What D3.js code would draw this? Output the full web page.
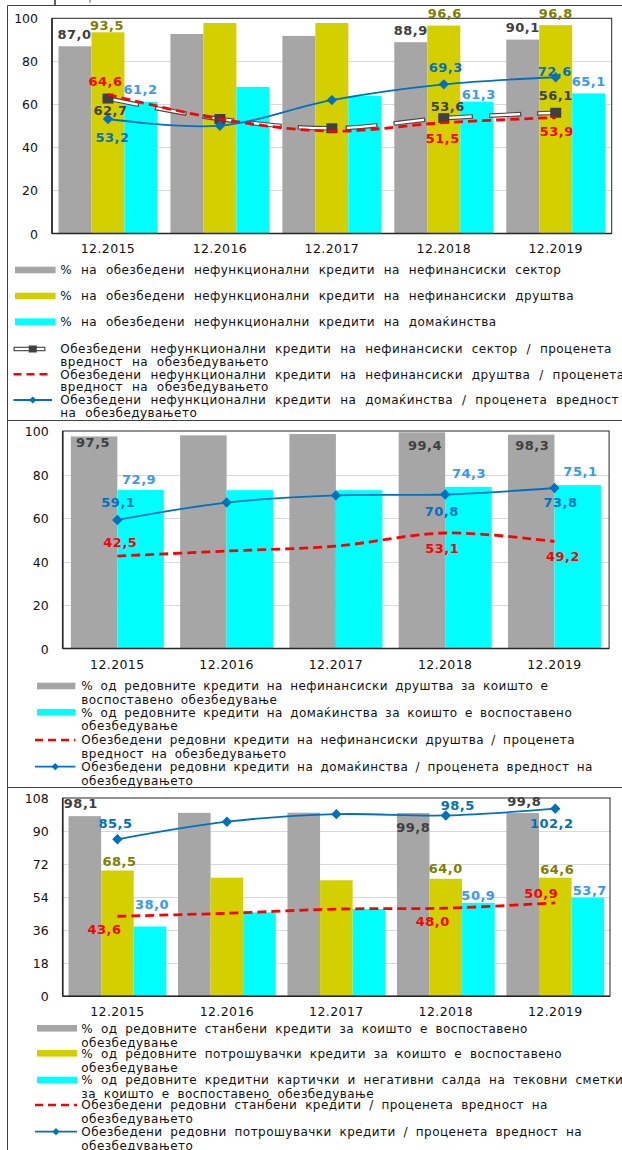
<!DOCTYPE html>
<html>
<head>
<meta charset="utf-8">
<script src="https://cdn.jsdelivr.net/npm/d3@7"></script>
<style>
  html, body { margin: 0; padding: 0; background: #fff; }
  svg { display: block; }
  text { font-family: "DejaVu Sans", Verdana, sans-serif; }
</style>
</head>
<body>
<svg id="chart" width="622" height="1150"></svg>
<script>
const categories = ["12.2015", "12.2016", "12.2017", "12.2018", "12.2019"];

// Non-performing loans: collateral coverage, %
const npSectorShare     = [87.0, 92.7, 91.8, 88.9, 90.1];
const npCompaniesShare  = [93.5, 97.8, 97.8, 96.6, 96.8];
const npHouseholdsShare = [61.2, 68.1, 63.9, 61.3, 65.1];
const npSectorRatio     = [62.7, 53.2, 48.9, 53.6, 56.1];
const npCompaniesRatio  = [64.6, 53.2, 47.6, 51.5, 53.9];
const npHouseholdsRatio = [53.2, 50.1, 62.0, 69.3, 72.6];
const npTicks = [0, 20, 40, 60, 80, 100];

// Regular loans: companies and households
const rgCompaniesShare  = [97.5, 98.0, 98.6, 99.4, 98.3];
const rgHouseholdsShare = [72.9, 72.8, 72.8, 74.3, 75.1];
const rgCompaniesRatio  = [42.5, 44.8, 47.1, 53.1, 49.2];
const rgHouseholdsRatio = [59.1, 67.1, 70.4, 70.8, 73.8];
const rgTicks = [0, 20, 40, 60, 80, 100];

// Regular household loans by product
const hhHousingShare  = [98.1, 99.9, 100.0, 99.8, 99.8];
const hhConsumerShare = [68.5, 64.6, 63.2, 64.0, 64.6];
const hhCardsShare    = [38.0, 45.7, 47.5, 50.9, 53.7];
const hhHousingRatio  = [43.6, 45.2, 47.5, 48.0, 50.9];
const hhConsumerRatio = [85.5, 95.1, 99.2, 98.5, 102.2];
const hhTicks = [0, 18, 36, 54, 72, 90, 108];

// Legend texts (pre-wrapped)
const npLegend = [
  ["% на обезбедени нефункционални кредити на нефинансиски сектор"],
  ["% на обезбедени нефункционални кредити на нефинансиски друштва"],
  ["% на обезбедени нефункционални кредити на домаќинства"],
  ["Обезбедени нефункционални кредити на нефинансиски сектор / проценета", "вредност на обезбедувањето"],
  ["Обезбедени нефункционални кредити на нефинансиски друштва / проценета", "вредност на обезбедувањето"],
  ["Обезбедени нефункционални кредити на домаќинства / проценета вредност", "на обезбедувањето"]
];
const rgLegend = [
  ["% од редовните кредити на нефинансиски друштва за коишто е", "воспоставено обезбедување"],
  ["% од редовните кредити на домаќинства за коишто е воспоставено", "обезбедување"],
  ["Обезбедени редовни кредити на нефинансиски друштва / проценета", "вредност на обезбедувањето"],
  ["Обезбедени редовни кредити на домаќинства / проценета вредност на", "обезбедувањето"]
];
const hhLegend = [
  ["% од редовните станбени кредити за коишто е воспоставено", "обезбедување"],
  ["% од редовните потрошувачки кредити за коишто е воспоставено", "обезбедување"],
  ["% од редовните кредитни картички и негативни салда на тековни сметки", "за коишто е воспоставено обезбедување"],
  ["Обезбедени редовни станбени кредити / проценета вредност на", "обезбедувањето"],
  ["Обезбедени редовни потрошувачки кредити / проценета вредност на", "обезбедувањето"]
];

// ---- styling ----
const GRAY = "#a6a6a6", YELLOW = "#d4d000", CYAN = "#00ffff", RED = "#ff0000", BLUE = "#0070c0", DARK = "#404040";
const LBL_GRAY = "#404040", LBL_YELLOW = "#7f7f00", LBL_CYAN = "#3399ff", LBL_BLUE = "#0070c0", LBL_RED = "#ff0000";
const FONT = "'DejaVu Sans', Verdana, sans-serif";

const W = 622, H = 1150;
const svg = d3.select("#chart");
svg.append("rect").attr("width", W).attr("height", H).attr("fill", "#fff");

const fmt = v => d3.format(".1f")(v).replace(".", ",");

// panel outlines
const outline = svg.append("g").attr("stroke", DARK).attr("stroke-width", 1).attr("fill", "none");
outline.append("line").attr("x1", 7.5).attr("x2", W).attr("y1", 5.5).attr("y2", 5.5);
outline.append("line").attr("x1", 7.5).attr("x2", W).attr("y1", 420.5).attr("y2", 420.5);
outline.append("line").attr("x1", 7.5).attr("x2", W).attr("y1", 787.5).attr("y2", 787.5);
outline.append("line").attr("x1", 7.5).attr("x2", 7.5).attr("y1", 5.5).attr("y2", H);
outline.append("line").attr("x1", 55).attr("x2", 55).attr("y1", 0).attr("y2", 5).attr("stroke-width", 1.4).attr("stroke", "#222");
outline.append("line").attr("x1", 90).attr("x2", 90).attr("y1", 0).attr("y2", 2.5).attr("stroke", "#555");

const diamond = (s) => `M0,${-s}L${s},0L0,${s}L${-s},0Z`;

// double (compound) dashed stroke: dark outline with a white core
function compoundLine(g, d, w) {
  g.append("path").attr("d", d).attr("fill", "none").attr("stroke", "#4a4a4a")
    .attr("stroke-width", w).attr("stroke-dasharray", "32 16");
  g.append("path").attr("d", d).attr("fill", "none").attr("stroke", "#fff")
    .attr("stroke-width", w * 0.5).attr("stroke-dasharray", "29.5 18.5").attr("stroke-dashoffset", -1.25);
}

function drawPanel(cfg) {
  const g = svg.append("g");
  const f = cfg.frame;
  const x = d3.scaleBand().domain(categories).range([f.left, f.right])
    .paddingInner(cfg.pad).paddingOuter(cfg.pad / 2);
  const xs = d3.scaleBand().domain(d3.range(cfg.bars.length)).range([0, x.bandwidth()]);
  const y = d3.scaleLinear().domain([0, cfg.yMax]).range([f.bottom, f.top]);
  const cx = i => x(categories[i]) + x.bandwidth() / 2;

  // gridlines
  g.append("g").selectAll("line").data(cfg.ticks.filter(t => t > 0 && t < cfg.yMax)).join("line")
    .attr("x1", f.left).attr("x2", f.right)
    .attr("y1", d => Math.round(y(d)) + 0.5).attr("y2", d => Math.round(y(d)) + 0.5)
    .attr("stroke", "#d9d9d9").attr("stroke-width", 1);

  // bars
  cfg.bars.forEach((s, si) => {
    g.append("g").selectAll("rect").data(s.values).join("rect")
      .attr("x", (d, i) => x(categories[i]) + xs(si))
      .attr("width", xs.bandwidth())
      .attr("y", d => y(d))
      .attr("height", d => y(0) - y(d))
      .attr("fill", s.color);
  });

  // frame
  g.append("rect").attr("x", f.left).attr("y", f.top)
    .attr("width", f.right - f.left).attr("height", f.bottom - f.top)
    .attr("fill", "none").attr("stroke", "#262626").attr("stroke-width", 1);
  g.append("line").attr("x1", f.left).attr("x2", f.left).attr("y1", f.top).attr("y2", f.bottom)
    .attr("stroke", "#262626").attr("stroke-width", 1.6);
  g.append("line").attr("x1", f.left).attr("x2", f.right).attr("y1", f.bottom).attr("y2", f.bottom)
    .attr("stroke", "#262626").attr("stroke-width", 1.6);

  // axes
  const ya = g.append("g").attr("transform", `translate(${f.left},0)`)
    .call(d3.axisLeft(y).tickValues(cfg.ticks).tickSize(0).tickPadding(14).tickFormat(d3.format("d")));
  ya.select(".domain").remove();
  ya.selectAll("text").attr("font-size", 12.5).attr("font-family", FONT).attr("fill", "#111").attr("dy", "0.36em");
  const xa = g.append("g").attr("transform", `translate(0,${f.bottom})`)
    .call(d3.axisBottom(x).tickSize(0).tickPadding(cfg.xPad));
  xa.select(".domain").remove();
  xa.selectAll("text").attr("font-size", 12.5).attr("font-family", FONT).attr("fill", "#111").attr("letter-spacing", 0.4);

  // lines
  const line = d3.line().x((d, i) => cx(i)).y(d => y(d)).curve(d3.curveCardinal.tension(0));
  cfg.lines.forEach(s => {
    const lg = g.append("g");
    const d = line(s.values);
    if (s.style === "compound") {
      compoundLine(lg, d, 4.6);
      lg.selectAll("rect").data(s.values).join("rect")
        .attr("x", (v, i) => cx(i) - 5.5).attr("y", v => y(v) - 5)
        .attr("width", 11).attr("height", 10).attr("fill", DARK);
    } else if (s.style === "dash") {
      lg.append("path").attr("d", d).attr("fill", "none").attr("stroke", RED)
        .attr("stroke-width", 2.8).attr("stroke-dasharray", "9 5");
    } else {
      lg.append("path").attr("d", d).attr("fill", "none").attr("stroke", BLUE).attr("stroke-width", 1.8);
      lg.selectAll("path.mk").data(s.values).join("path").attr("class", "mk")
        .attr("d", diamond(5.2))
        .attr("transform", (v, i) => `translate(${cx(i)},${y(v)})`)
        .attr("fill", BLUE);
    }
  });

  // data labels
  const lab = g.append("g").attr("font-family", FONT).attr("font-weight", "bold")
    .attr("font-size", 13).attr("text-anchor", "middle").attr("letter-spacing", 0.5);
  cfg.bars.forEach((s, si) => {
    s.labels.forEach(([i, dx, dy]) => {
      lab.append("text")
        .attr("x", x(categories[i]) + xs(si) + xs.bandwidth() / 2 + dx)
        .attr("y", y(s.values[i]) + dy).attr("dy", "0.36em")
        .attr("fill", s.labelColor).text(fmt(s.values[i]));
    });
  });
  cfg.lines.forEach(s => {
    s.labels.forEach(([i, dx, dy]) => {
      lab.append("text")
        .attr("x", cx(i) + dx).attr("y", y(s.values[i]) + dy).attr("dy", "0.36em")
        .attr("fill", s.labelColor).text(fmt(s.values[i]));
    });
  });

  // legend
  const L = cfg.legend;
  const lg = svg.append("g");
  L.entries.forEach((e, k) => {
    const yy = L.ys[k];
    if (e.kind === "bar") {
      lg.append("rect").attr("x", L.sw[0]).attr("y", yy - 3.3).attr("width", L.sw[1] - L.sw[0]).attr("height", 6.6).attr("fill", e.color);
    } else if (e.kind === "compound") {
      compoundLine(lg, `M${L.ln[0]},${yy}L${L.ln[1]},${yy}`, 4.4);
      const m = (L.ln[0] + L.ln[1]) / 2;
      lg.append("rect").attr("x", m - 4).attr("y", yy - 3.5).attr("width", 8).attr("height", 7).attr("fill", DARK);
    } else if (e.kind === "dash") {
      lg.append("line").attr("x1", L.ln[0]).attr("x2", L.ln[1]).attr("y1", yy).attr("y2", yy)
        .attr("stroke", RED).attr("stroke-width", 2.6).attr("stroke-dasharray", "8 5");
    } else {
      lg.append("line").attr("x1", L.ln[0]).attr("x2", L.ln[1]).attr("y1", yy).attr("y2", yy)
        .attr("stroke", BLUE).attr("stroke-width", 1.8);
      lg.append("path").attr("d", diamond(3.6)).attr("transform", `translate(${(L.ln[0] + L.ln[1]) / 2},${yy})`).attr("fill", BLUE);
    }
    e.text.forEach((t, j) => {
      lg.append("text").attr("x", L.tx).attr("y", yy + j * L.lh).attr("dy", "0.36em")
        .attr("font-family", FONT).attr("font-size", 12).attr("fill", "#111")
        .attr("letter-spacing", 0.45).attr("word-spacing", L.ws)
        .text(t);
    });
  });
}

// ---- panel 1: non-performing loans ----
drawPanel({
  frame: { left: 52, right: 611.7, top: 18.3, bottom: 233.5 },
  yMax: 100, ticks: npTicks, pad: 0.116, xPad: 10.5,
  bars: [
    { values: npSectorShare, color: GRAY, labelColor: LBL_GRAY, labels: [[0, -0.5, -12], [3, 0, -12], [4, 0, -12]] },
    { values: npCompaniesShare, color: YELLOW, labelColor: LBL_YELLOW, labels: [[0, -1, -7], [3, 1, -12], [4, 0, -12]] },
    { values: npHouseholdsShare, color: CYAN, labelColor: LBL_CYAN, labels: [[0, -0.5, -12], [3, 2, -7], [4, 0, -12]] }
  ],
  lines: [
    { values: npSectorRatio, style: "compound", labelColor: LBL_GRAY, labels: [[0, 2.5, 11.5], [3, 4, -12], [4, 0, -17]] },
    { values: npCompaniesRatio, style: "dash", labelColor: LBL_RED, labels: [[0, -2.5, -13.5], [3, -1, 16], [4, 1, 14]] },
    { values: npHouseholdsRatio, style: "diamond", labelColor: LBL_BLUE, labels: [[0, 4.5, 18], [3, 2, -17], [4, -1, -6]] }
  ],
  legend: {
    sw: [15, 55.6], ln: [13.5, 52], tx: 60.3, lh: 12.7, ws: 4.6,
    ys: [270, 296, 321.7, 349, 374.3, 400],
    entries: [
      { kind: "bar", color: GRAY, text: npLegend[0] },
      { kind: "bar", color: YELLOW, text: npLegend[1] },
      { kind: "bar", color: CYAN, text: npLegend[2] },
      { kind: "compound", text: npLegend[3] },
      { kind: "dash", text: npLegend[4] },
      { kind: "diamond", text: npLegend[5] }
    ]
  }
});

// ---- panel 2: regular loans ----
drawPanel({
  frame: { left: 62.7, right: 609.1, top: 431, bottom: 648.5 },
  yMax: 100, ticks: rgTicks, pad: 0.149, xPad: 12,
  bars: [
    { values: rgCompaniesShare, color: GRAY, labelColor: LBL_GRAY, labels: [[0, -1, 6], [3, 3, 13.4], [4, 1, 10.3]] },
    { values: rgHouseholdsShare, color: CYAN, labelColor: LBL_CYAN, labels: [[0, -1.5, -11], [3, 0.5, -13.6], [4, 2.7, -13.5]] }
  ],
  lines: [
    { values: rgCompaniesRatio, style: "dash", labelColor: LBL_RED, labels: [[0, 3, -13.4], [3, -3, 15.3], [4, 8.5, 15.2]] },
    { values: rgHouseholdsRatio, style: "diamond", labelColor: LBL_BLUE, labels: [[0, 1, -18], [3, -3.5, 17], [4, 6, 14.7]] }
  ],
  legend: {
    sw: [37, 75.4], ln: [35, 75.4], tx: 81.3, lh: 13.8, ws: 3,
    ys: [686, 712.3, 740, 766.7],
    entries: [
      { kind: "bar", color: GRAY, text: rgLegend[0] },
      { kind: "bar", color: CYAN, text: rgLegend[1] },
      { kind: "dash", text: rgLegend[2] },
      { kind: "diamond", text: rgLegend[3] }
    ]
  }
});

// ---- panel 3: regular household loans by product ----
drawPanel({
  frame: { left: 62.7, right: 610, top: 798, bottom: 996.3 },
  yMax: 108, ticks: hhTicks, pad: 0.107, xPad: 11,
  bars: [
    { values: hhHousingShare, color: GRAY, labelColor: LBL_GRAY, labels: [[0, -4, -13], [3, 0, 14.6], [4, 1.5, -12]] },
    { values: hhConsumerShare, color: YELLOW, labelColor: LBL_YELLOW, labels: [[0, 2, -9.5], [3, 0, -10.5], [4, 2, -8]] },
    { values: hhCardsShare, color: CYAN, labelColor: LBL_CYAN, labels: [[0, 2, -22.5], [3, 0, -8], [4, 2, -7]] }
  ],
  lines: [
    { values: hhHousingRatio, style: "dash", labelColor: LBL_RED, labels: [[0, -13, 13], [3, -13, 13], [4, -14, -10]] },
    { values: hhConsumerRatio, style: "diamond", labelColor: LBL_BLUE, labels: [[0, -2, -16], [3, 12, -10.5], [4, -3.5, 14.6]] }
  ],
  legend: {
    sw: [37, 77], ln: [35, 77], tx: 81.3, lh: 14, ws: 3.5,
    ys: [1028.3, 1053.3, 1080, 1105, 1131.7],
    entries: [
      { kind: "bar", color: GRAY, text: hhLegend[0] },
      { kind: "bar", color: YELLOW, text: hhLegend[1] },
      { kind: "bar", color: CYAN, text: hhLegend[2] },
      { kind: "dash", text: hhLegend[3] },
      { kind: "diamond", text: hhLegend[4] }
    ]
  }
});
</script>
</body>
</html>
